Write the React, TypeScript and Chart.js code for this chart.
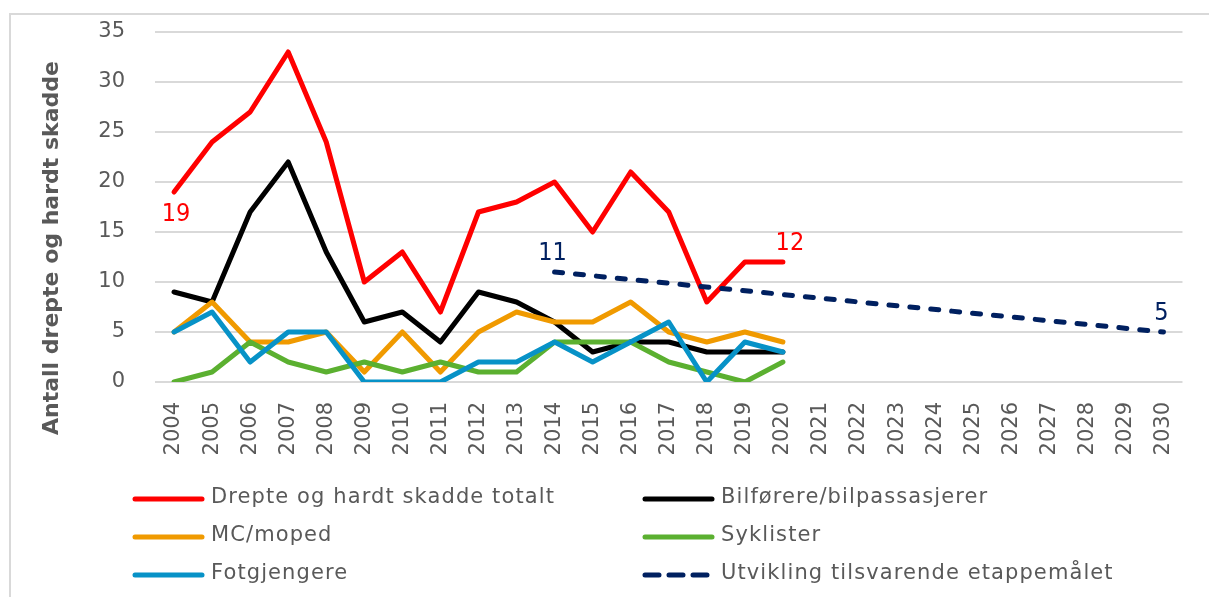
import React, { useEffect, useRef } from 'react';
import { Chart, registerables } from 'chart.js';

Chart.register(...registerables);

const years = [
  '2004', '2005', '2006', '2007', '2008', '2009', '2010', '2011', '2012',
  '2013', '2014', '2015', '2016', '2017', '2018', '2019', '2020', '2021',
  '2022', '2023', '2024', '2025', '2026', '2027', '2028', '2029', '2030',
];
const total = [19, 24, 27, 33, 24, 10, 13, 7, 17, 18, 20, 15, 21, 17, 8, 12, 12];
const bilforere = [9, 8, 17, 22, 13, 6, 7, 4, 9, 8, 6, 3, 4, 4, 3, 3, 3];
const mcMoped = [5, 8, 4, 4, 5, 1, 5, 1, 5, 7, 6, 6, 8, 5, 4, 5, 4];
const syklister = [0, 1, 4, 2, 1, 2, 1, 2, 1, 1, 4, 4, 4, 2, 1, 0, 2];
const fotgjengere = [5, 7, 2, 5, 5, 0, 0, 0, 2, 2, 4, 2, 4, 6, 0, 4, 3];
const targetYears = ['2014', '2030'];
const targetValues = [11, 5];

const seriesNames = [
  'Drepte og hardt skadde totalt',
  'Bilførere/bilpassasjerer',
  'MC/moped',
  'Syklister',
  'Fotgjengere',
  'Utvikling tilsvarende etappemålet',
];
const seriesColors = ['#FF0000', '#000000', '#F09A00', '#5BB030', '#0792C7', '#002060'];
const yAxisTitle = 'Antall drepte og hardt skadde';

const TEXT_COLOR = '#595959';
const GRID_COLOR = '#D9D9D9';

const targetData = years.map((y) => {
  const i = targetYears.indexOf(y);
  return i >= 0 ? targetValues[i] : null;
});

const decorPlugin = {
  id: 'decor',
  beforeDraw(chart: any) {
    const ctx = chart.ctx;
    ctx.save();
    ctx.fillStyle = '#ffffff';
    ctx.fillRect(0, 0, chart.width, chart.height);
    ctx.strokeStyle = GRID_COLOR;
    ctx.lineWidth = 2;
    ctx.beginPath();
    ctx.moveTo(10, chart.height);
    ctx.lineTo(10, 14);
    ctx.lineTo(chart.width, 14);
    ctx.stroke();
    ctx.restore();
  },
  afterDatasetsDraw(chart: any) {
    const ctx = chart.ctx;
    const xs = chart.scales.x;
    const ys = chart.scales.y;
    ctx.save();
    ctx.font = '25px "Liberation Sans Narrow", "DejaVu Sans Condensed", sans-serif';
    ctx.textAlign = 'center';
    ctx.textBaseline = 'middle';
    const lastTotal = total.length - 1;
    ctx.fillStyle = seriesColors[0];
    ctx.fillText(String(total[0]), xs.getPixelForValue(0) + 2, ys.getPixelForValue(total[0]) + 22);
    ctx.fillText(String(total[lastTotal]), xs.getPixelForValue(lastTotal) + 7, ys.getPixelForValue(total[lastTotal]) - 19);
    ctx.fillStyle = seriesColors[5];
    targetYears.forEach((y, k) => {
      const idx = years.indexOf(y);
      ctx.fillText(String(targetValues[k]), xs.getPixelForValue(idx) - 2, ys.getPixelForValue(targetValues[k]) - 19);
    });
    ctx.restore();
  },
  afterDraw(chart: any) {
    const ctx = chart.ctx;
    ctx.save();
    ctx.translate(52, 248);
    ctx.rotate(-Math.PI / 2);
    ctx.font = 'bold 22px "DejaVu Sans", sans-serif';
    ctx.fillStyle = TEXT_COLOR;
    ctx.textAlign = 'center';
    ctx.textBaseline = 'middle';
    ctx.fillText(yAxisTitle, 0, 0);
    ctx.restore();

    ctx.save();
    const colX = [134, 644];
    const rowY = [499, 537, 575];
    ctx.font = '21px "DejaVu Sans", sans-serif';
    (ctx as any).letterSpacing = '1.1px';
    ctx.textBaseline = 'middle';
    ctx.textAlign = 'left';
    seriesNames.forEach((name, i) => {
      const col = i % 2;
      const row = Math.floor(i / 2);
      const x = colX[col];
      const y = rowY[row];
      ctx.strokeStyle = seriesColors[i];
      ctx.lineWidth = 5;
      ctx.lineCap = 'round';
      if (i === 5) ctx.setLineDash([14, 10]);
      else ctx.setLineDash([]);
      ctx.beginPath();
      ctx.moveTo(x + 1, y);
      ctx.lineTo(x + 68, y);
      ctx.stroke();
      ctx.setLineDash([]);
      ctx.fillStyle = TEXT_COLOR;
      ctx.fillText(name, x + 77, y - 1);
    });
    ctx.restore();
  },
};

export default function App() {
  const canvasRef = useRef<HTMLCanvasElement | null>(null);

  useEffect(() => {
    const canvas = canvasRef.current;
    if (!canvas) return;
    const seriesData = [total, bilforere, mcMoped, syklister, fotgjengere, targetData];
    const chart = new Chart(canvas, {
      type: 'line',
      data: {
        labels: years,
        datasets: seriesData.map((d, i) => ({
          label: seriesNames[i],
          data: d as any,
          borderColor: seriesColors[i],
          backgroundColor: seriesColors[i],
          borderWidth: 5,
          borderDash: i === 5 ? [8, 13] : [],
          borderCapStyle: 'round' as const,
          borderJoinStyle: 'round' as const,
          pointRadius: 0,
          pointHoverRadius: 0,
          tension: 0,
          fill: false,
          spanGaps: true,
          order: 10 - i,
        })),
      },
      options: {
        responsive: false,
        animation: false,
        devicePixelRatio: 1,
        layout: { padding: { top: 32, right: 19, bottom: 125, left: 0 } },
        plugins: {
          legend: { display: false },
          tooltip: { enabled: false },
          title: { display: false },
        },
        scales: {
          x: {
            type: 'category',
            offset: true,
            grid: { display: false, drawTicks: false },
            border: { display: false },
            ticks: {
              autoSkip: false,
              minRotation: 90,
              maxRotation: 90,
              padding: 20,
              color: TEXT_COLOR,
              font: { family: '"DejaVu Sans", sans-serif', size: 21 },
            },
            afterFit(scale: any) {
              scale.height = 90;
            },
          },
          y: {
            min: 0,
            max: 35,
            grid: { color: GRID_COLOR, lineWidth: 2, drawTicks: false },
            border: { display: false },
            ticks: {
              stepSize: 5,
              padding: 30,
              color: TEXT_COLOR,
              font: { family: '"DejaVu Sans", sans-serif', size: 21 },
            },
            afterFit(scale: any) {
              scale.width = 155;
              scale.paddingTop = 0;
              scale.paddingBottom = 0;
            },
          },
        },
      },
      plugins: [decorPlugin],
    });
    return () => chart.destroy();
  }, []);

  return (
    <div style={{ position: 'fixed', left: 0, top: 0, width: 1209, height: 597, background: '#fff' }}>
      <canvas ref={canvasRef} width={1209} height={597} style={{ width: 1209, height: 597, display: 'block' }} />
    </div>
  );
}
